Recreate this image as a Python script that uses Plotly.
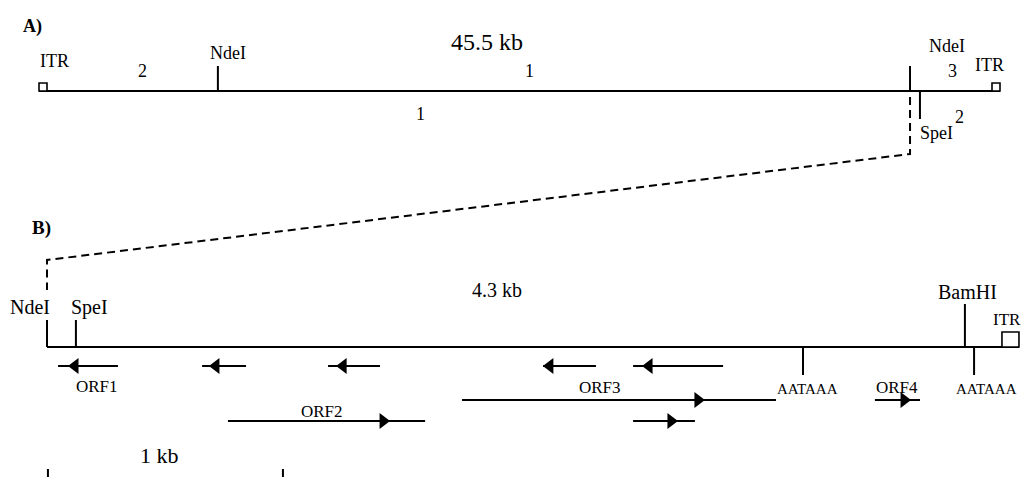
import plotly.graph_objects as go

# ---------------- DATA ----------------
# Panel A: whole genome (kb)
genome_a_kb = 45.5
a_site_names = ["NdeI", "NdeI", "SpeI"]
a_site_kb = [8.47, 41.24, 41.71]
a_site_side = ["up", "up", "down"]
a_site_label_kb = [8.95, 43.0, 42.5]
a_frag_labels = ["2", "1", "3", "1", "2"]
a_frag_kb = [4.92, 23.2, 43.23, 18.04, 43.6]
a_frag_side = ["up", "up", "up", "down", "down"]
a_itr_label_kb = [0.71, 45.0]
a_size_label = "45.5 kb"
a_size_label_kb = 21.2

# Panel B: 4.3 kb terminal NdeI fragment (kb from NdeI)
b_end_kb = 4.136
b_site_names = ["NdeI", "SpeI", "BamHI"]
b_site_kb = [0.0, 0.123, 3.906]
b_site_label_kb = [-0.072, 0.179, 3.919]
b_polya_kb = [3.217, 3.945]
b_polya_label_kb = [3.238, 3.996]
b_itr_label_kb = 4.085
b_size_label = "4.3 kb"
b_size_label_kb = 1.915

orf_start = [0.047, 0.660, 1.196, 2.111, 2.494, 0.770, 1.766, 2.494, 3.523]
orf_end = [0.302, 0.847, 1.417, 2.336, 2.877, 1.609, 3.102, 2.757, 3.715]
orf_head = [0.119, 0.719, 1.260, 2.140, 2.562, 1.430, 2.770, 2.655, 3.647]
orf_strand = ["-", "-", "-", "-", "-", "+", "+", "+", "+"]
orf_row = [0, 0, 0, 0, 0, 2, 1, 2, 1]
orf_names = ["ORF1", "ORF2", "ORF3", "ORF4"]
orf_name_kb = [0.213, 1.170, 2.353, 3.617]
orf_name_row = ["l0", "l2", "l1", "l1"]

scale_bar_kb = 1.0
scale_label = "1 kb"
scale_label_kb = 0.48

# ---------------- LAYOUT CONSTANTS ----------------
W, H = 1021, 477
A_LEFT_PX, A_RIGHT_PX = 39, 1000
B_LEFT_PX, B_PX_PER_KB = 47, 235
scaleA = (A_RIGHT_PX - A_LEFT_PX) / genome_a_kb

YA = 91            # panel A baseline
YB = 347           # panel B baseline
ROW_Y = {0: 366, 1: 400, 2: 421}
LBL_Y = {"l0": 386, "l1": 387, "l2": 411}
FONT = "Liberation Serif"
LW = 2
BLACK = "black"

def a_to_b(kb):
    px = A_LEFT_PX + kb * scaleA
    return (px - B_LEFT_PX) / B_PX_PER_KB

fig = go.Figure()
shapes = []
ann = []

def line(xref, x0, x1, y0, y1, width=LW, dash=None):
    d = dict(type="line", xref=xref, yref="y", x0=x0, x1=x1, y0=y0, y1=y1,
             line=dict(color=BLACK, width=width))
    if dash:
        d["line"]["dash"] = dash
    shapes.append(d)

def text(xref, x, y, s, size, bold=False, xanchor="center"):
    if bold:
        s = "<b>" + s + "</b>"
    ann.append(dict(xref=xref, yref="y", x=x, y=y, text=s, showarrow=False,
                    xanchor=xanchor, yanchor="middle",
                    font=dict(family=FONT, size=size, color=BLACK)))

# ---------- Panel A ----------
text("paper", 0.0315, 26, "A)", 18, bold=True)
line("x", 0, genome_a_kb, YA, YA)
for kb, anchor, x0, x1 in [(0, 0, 0, 8), (genome_a_kb, genome_a_kb, -8, 0)]:
    shapes.append(dict(type="rect", xref="x", yref="y", xsizemode="pixel",
                       xanchor=anchor, x0=x0, x1=x1, y0=YA - 8, y1=YA,
                       line=dict(color=BLACK, width=1.6), fillcolor="white"))
for name, kb, side, lkb in zip(a_site_names, a_site_kb, a_site_side, a_site_label_kb):
    if side == "up":
        line("x", kb, kb, YA, YA - 25)
        text("x", lkb, 53 if kb < 20 else 46, name, 18)
    else:
        line("x", kb, kb, YA, YA + 28)
        text("x", lkb, 133, name, 18)
for lab, kb, side in zip(a_frag_labels, a_frag_kb, a_frag_side):
    y = 71 if side == "up" else (114 if kb < 30 else 117)
    text("x", kb, y, lab, 18)
text("x", a_itr_label_kb[0], 61, "ITR", 18)
text("x", a_itr_label_kb[1], 65, "ITR", 18)
text("x", a_size_label_kb, 42, a_size_label, 24)

# dashed connector from NdeI (panel A) to NdeI (panel B)
xa = a_to_b(a_site_kb[1])
fig.add_trace(go.Scatter(x=[xa, xa, b_site_kb[0], b_site_kb[0]], y=[97, 154, 260, 290],
                         xaxis="x2", yaxis="y", mode="lines",
                         line=dict(color=BLACK, width=LW, dash="8px,5px"),
                         hoverinfo="skip", showlegend=False))

# ---------- Panel B ----------
text("paper", 0.0405, 228, "B)", 19, bold=True)
line("x2", 0, b_end_kb, YB, YB)
shapes.append(dict(type="rect", xref="x2", yref="y", xsizemode="pixel",
                   xanchor=b_end_kb, x0=-17, x1=0, y0=YB - 15, y1=YB,
                   line=dict(color=BLACK, width=1.6), fillcolor="white"))
for name, kb, lkb in zip(b_site_names, b_site_kb, b_site_label_kb):
    top = YB - 43 if name == "BamHI" else YB - 27
    line("x2", kb, kb, YB, top)
    text("x2", lkb, 292 if name == "BamHI" else 307, name, 20)
for kb, lkb in zip(b_polya_kb, b_polya_label_kb):
    line("x2", kb, kb, YB, YB + 28)
    text("x2", lkb, 389, "AATAAA", 15)
text("x2", b_itr_label_kb, 319, "ITR", 17)
text("x2", b_size_label_kb, 290, b_size_label, 20)

# ORFs
for s, e, h, st, r in zip(orf_start, orf_end, orf_head, orf_strand, orf_row):
    y = ROW_Y[r]
    line("x2", s, e, y, y)
    fig.add_trace(go.Scatter(x=[h], y=[y], xaxis="x2", yaxis="y", mode="markers",
                             marker=dict(symbol="triangle-right" if st == "+" else "triangle-left",
                                         size=14, color=BLACK, line=dict(width=0)),
                             hoverinfo="skip", showlegend=False))
for nm, kb, lr in zip(orf_names, orf_name_kb, orf_name_row):
    text("x2", kb, LBL_Y[lr], nm, 17)

# scale bar
line("x2", 0.004, 0.004, 469, 485)
line("x2", 0.004 + scale_bar_kb, 0.004 + scale_bar_kb, 469, 485)
text("x2", scale_label_kb, 455, scale_label, 22)

fig.update_layout(
    width=W, height=H, margin=dict(l=0, r=0, t=0, b=0),
    paper_bgcolor="white", plot_bgcolor="white",
    shapes=shapes, annotations=ann, showlegend=False,
    xaxis=dict(range=[-A_LEFT_PX / scaleA, (W - A_LEFT_PX) / scaleA], visible=False,
               domain=[0, 1], fixedrange=True),
    xaxis2=dict(range=[-B_LEFT_PX / B_PX_PER_KB, (W - B_LEFT_PX) / B_PX_PER_KB],
                visible=False, overlaying="x", domain=[0, 1], fixedrange=True),
    yaxis=dict(range=[H, 0], visible=False, fixedrange=True),
)
fig.write_html("out.html", config={"displayModeBar": False},
               post_script="document.body.style.margin='0px';document.body.style.overflow='hidden';")
